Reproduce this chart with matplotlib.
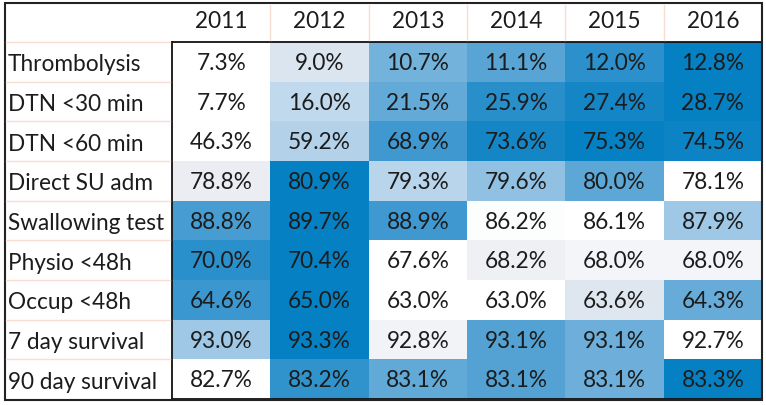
import numpy as np
import matplotlib.pyplot as plt
from matplotlib.colors import LinearSegmentedColormap
from matplotlib.patches import Rectangle
from matplotlib.lines import Line2D

years = ["2011", "2012", "2013", "2014", "2015", "2016"]
measures = ["Thrombolysis", "DTN <30 min", "DTN <60 min", "Direct SU adm",
            "Swallowing test", "Physio <48h", "Occup <48h", "7 day survival",
            "90 day survival"]

thrombolysis = [7.3, 9.0, 10.7, 11.1, 12.0, 12.8]
dtn30 = [7.7, 16.0, 21.5, 25.9, 27.4, 28.7]
dtn60 = [46.3, 59.2, 68.9, 73.6, 75.3, 74.5]
direct_su = [78.8, 80.9, 79.3, 79.6, 80.0, 78.1]
swallowing = [88.8, 89.7, 88.9, 86.2, 86.1, 87.9]
physio = [70.0, 70.4, 67.6, 68.2, 68.0, 68.0]
occup = [64.6, 65.0, 63.0, 63.0, 63.6, 64.3]
survival7 = [93.0, 93.3, 92.8, 93.12, 93.08, 92.7]
survival90 = [82.7, 83.2, 83.1, 83.12, 83.08, 83.3]

table = np.array([thrombolysis, dtn30, dtn60, direct_su, swallowing,
                  physio, occup, survival7, survival90])

# each row coloured on its own scale (excel style)
lo = table.min(axis=1, keepdims=True)
hi = table.max(axis=1, keepdims=True)
norm_tab = (table - lo) / (hi - lo)

cmap = LinearSegmentedColormap.from_list("xl", [
    (0.0, "#ffffff"), (0.25, "#eceef3"), (0.45, "#b2d2ea"),
    (0.7, "#55a3d5"), (1.0, "#0580c3")])

plt.rcParams['font.family'] = ['Lato', 'DejaVu Sans']
fs = 16.3
txt_col = "#1c1c1c"

W, H = 766, 406
fig = plt.figure(figsize=(W / 100, H / 100), dpi=100)

left, right, top, bottom = 172, 762, 43, 400
ax = fig.add_axes([left / W, 1 - bottom / H, (right - left) / W, (bottom - top) / H])
ax.imshow(norm_tab, cmap=cmap, vmin=0, vmax=1, aspect="auto", interpolation="nearest")
ax.set_xticks([])
ax.set_yticks([])
for s in ax.spines.values():
    s.set_linewidth(1.3)
    s.set_color("#111111")

for i in range(len(measures)):
    for j in range(len(years)):
        ax.text(j, i + 0.02, f"{table[i, j]:.1f}%", ha="center", va="center",
                fontsize=fs, color=txt_col)

# headers and row labels
for j, y in enumerate(years):
    ax.text(j, -1.05, y, ha="center", va="center", fontsize=fs,
            color=txt_col, clip_on=False)
for i, m in enumerate(measures):
    ax.annotate(m, xy=(0, i + 0.05), xycoords=("figure pixels", "data"),
                xytext=(8, 0), textcoords="offset pixels",
                ha="left", va="center", fontsize=fs, color=txt_col)

# faint salmon separators
sep = "#f8ddd3"
for j in range(1, len(years)):
    fig.add_artist(Line2D([(left + j * (right - left) / 6) / W] * 2,
                          [1 - 6 / H, 1 - 41 / H], color=sep, lw=1))
for i in range(0, len(measures)):
    yy = top + i * (bottom - top) / 9
    fig.add_artist(Line2D([6 / W, 170 / W], [1 - yy / H] * 2, color=sep, lw=1))

# outer border
fig.add_artist(Rectangle((5 / W, 1 - 401 / H), 757 / W, 397 / H, fill=False,
                         edgecolor="#222222", lw=1.5, transform=fig.transFigure))

fig.savefig("out.png", dpi=100, facecolor="white")
